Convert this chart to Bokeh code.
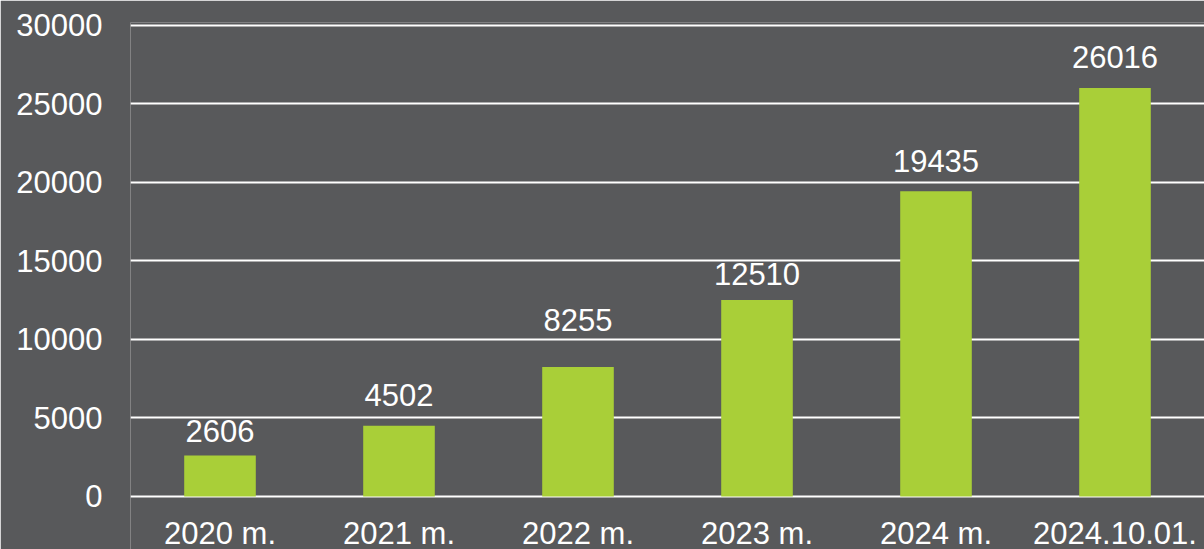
from bokeh.plotting import figure
from bokeh.models import ColumnDataSource, FixedTicker, Range1d, LabelSet
from bokeh.core.properties import value
from bokeh.embed import file_html
from bokeh.resources import INLINE

categories = ["2020 m.", "2021 m.", "2022 m.", "2023 m.", "2024 m.", "2024.10.01."]
values = [2606, 4502, 8255, 12510, 19435, 26016]
labels = [str(v) for v in values]
y_ticks = [0, 5000, 10000, 15000, 20000, 25000, 30000]

# label offsets above the bar tops (screen px, styling only)
label_offsets = [-14, -20, -36, -15, -19, -20]

BG = "#58595B"
GREEN = "#A9CF38"
FONT = "Liberation Sans"

src = ColumnDataSource(dict(cat=categories, val=values, lab=labels, off=label_offsets))

# frame extends to the bottom edge so the category labels (drawn below zero) are not clipped
p = figure(x_range=categories, y_range=Range1d(-3376, 30191), width=1204, height=549,
           output_backend="svg", toolbar_location=None,
           min_border_left=130, min_border_right=0, min_border_top=22, min_border_bottom=0)
p.background_fill_color = BG
p.border_fill_color = BG
p.outline_line_color = None

p.vbar(x="cat", top="val", width=0.4, source=src, fill_color=GREEN, line_color=None, level="overlay")
p.text(x="cat", y="val", text="lab", source=src, text_align="center", text_baseline="bottom",
       y_offset="off", text_color="white", text_font=value(FONT), text_font_size="31px", level="overlay")

# category labels below the zero line
cat_labels = LabelSet(x="cat", y=0, text="cat", source=src, text_align="center",
                      text_baseline="alphabetic", y_offset=-48, text_color="white",
                      text_font=value(FONT), text_font_size=value("31px"))
p.add_layout(cat_labels)

p.xgrid.grid_line_color = None
p.ygrid.grid_line_color = "white"
p.ygrid.grid_line_width = 2
p.ygrid.level = "underlay"

p.yaxis.ticker = FixedTicker(ticks=y_ticks)
p.yaxis.axis_line_color = None
p.yaxis.major_tick_line_color = None
p.yaxis.minor_tick_line_color = None
p.yaxis.major_label_text_color = "white"
p.yaxis.major_label_text_font = FONT
p.yaxis.major_label_text_font_size = "31px"
p.yaxis.major_label_standoff = 22

p.xaxis.visible = False

html = file_html(p, INLINE)
html = html.replace("<body>", '<body style="background:#58595B">', 1)
open("out.html", "w").write(html)
